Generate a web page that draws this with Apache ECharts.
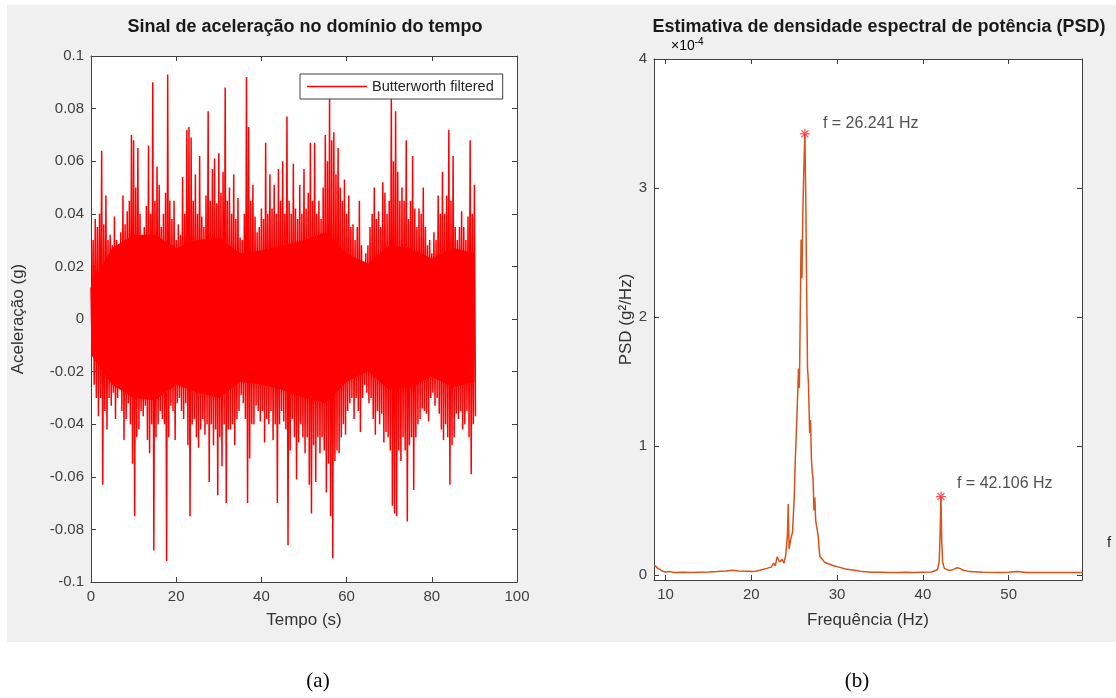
<!DOCTYPE html>
<html>
<head>
<meta charset="utf-8">
<script src="https://cdn.jsdelivr.net/npm/echarts@6/dist/echarts.min.js"></script>
<style>
  html, body { margin: 0; padding: 0; background: #ffffff; }
  #chart { width: 1116px; height: 698px; }
</style>
</head>
<body>
<div id="chart"></div>
<script>
// ---------------- DATA ----------------
// (a) acceleration signal, read as the local upper / lower peak envelope every 0.5 s (0 .. 90 s)
const timeStep = 0.5; // s
const accelUpper = [
  0.012,0.030,0.038,0.035,0.040,0.064,0.036,0.047,0.030,0.032,
  0.028,0.039,0.030,0.027,0.033,0.047,0.036,0.041,0.045,0.070,
  0.068,0.050,0.065,0.040,0.029,0.035,0.043,0.066,0.040,0.090,
  0.045,0.058,0.051,0.035,0.040,0.048,0.093,0.045,0.038,0.045,
  0.030,0.036,0.032,0.054,0.040,0.072,0.073,0.069,0.045,0.055,
  0.040,0.062,0.039,0.035,0.047,0.079,0.045,0.057,0.061,0.044,
  0.063,0.048,0.056,0.088,0.045,0.050,0.040,0.055,0.038,0.046,
  0.031,0.030,0.040,0.092,0.073,0.045,0.051,0.039,0.033,0.035,
  0.042,0.038,0.067,0.040,0.055,0.042,0.051,0.040,0.057,0.045,
  0.060,0.040,0.077,0.045,0.040,0.059,0.042,0.038,0.051,0.040,
  0.057,0.042,0.048,0.067,0.045,0.067,0.040,0.045,0.038,0.050,
  0.070,0.060,0.085,0.068,0.071,0.055,0.065,0.050,0.045,0.053,
  0.040,0.047,0.035,0.036,0.030,0.035,0.045,0.028,0.022,0.025,
  0.028,0.035,0.040,0.050,0.038,0.041,0.035,0.052,0.048,0.040,
  0.045,0.085,0.060,0.079,0.056,0.045,0.050,0.045,0.068,0.038,
  0.045,0.062,0.042,0.035,0.042,0.040,0.050,0.035,0.028,0.030,
  0.025,0.033,0.030,0.047,0.040,0.056,0.040,0.047,0.072,0.045,
  0.062,0.035,0.030,0.035,0.041,0.035,0.030,0.039,0.068,0.040,
  0.051
];
const accelLower = [
  -0.012,-0.025,-0.030,-0.037,-0.030,-0.063,-0.035,-0.042,-0.030,-0.033,
  -0.028,-0.038,-0.030,-0.025,-0.035,-0.046,-0.038,-0.032,-0.040,-0.055,
  -0.075,-0.045,-0.042,-0.035,-0.037,-0.033,-0.046,-0.051,-0.040,-0.088,
  -0.045,-0.040,-0.035,-0.038,-0.040,-0.092,-0.045,-0.033,-0.035,-0.046,
  -0.032,-0.030,-0.035,-0.038,-0.032,-0.048,-0.075,-0.040,-0.038,-0.045,
  -0.049,-0.042,-0.038,-0.044,-0.040,-0.062,-0.040,-0.048,-0.042,-0.067,
  -0.045,-0.056,-0.040,-0.070,-0.042,-0.042,-0.040,-0.048,-0.038,-0.035,
  -0.029,-0.032,-0.038,-0.070,-0.053,-0.040,-0.040,-0.033,-0.035,-0.039,
  -0.035,-0.047,-0.038,-0.040,-0.035,-0.046,-0.040,-0.070,-0.040,-0.035,
  -0.039,-0.042,-0.086,-0.050,-0.038,-0.045,-0.061,-0.047,-0.040,-0.045,
  -0.051,-0.045,-0.063,-0.074,-0.048,-0.062,-0.045,-0.051,-0.045,-0.050,
  -0.066,-0.055,-0.075,-0.091,-0.054,-0.050,-0.051,-0.045,-0.040,-0.044,
  -0.035,-0.032,-0.030,-0.038,-0.030,-0.035,-0.043,-0.030,-0.025,-0.028,
  -0.032,-0.030,-0.038,-0.044,-0.035,-0.040,-0.036,-0.047,-0.043,-0.045,
  -0.050,-0.071,-0.074,-0.075,-0.050,-0.054,-0.045,-0.050,-0.077,-0.048,
  -0.045,-0.065,-0.045,-0.040,-0.038,-0.034,-0.035,-0.036,-0.039,-0.030,
  -0.028,-0.033,-0.030,-0.036,-0.042,-0.046,-0.040,-0.045,-0.063,-0.048,
  -0.045,-0.036,-0.038,-0.035,-0.042,-0.040,-0.035,-0.045,-0.059,-0.040,
  -0.037
];
// dense (solid) core of the signal, read every 5 s (0 .. 90 s)
const coreStep = 5; // s
const coreUpper = [0.014, 0.027, 0.032, 0.032, 0.027, 0.030, 0.031, 0.025, 0.026, 0.028, 0.030, 0.033, 0.025, 0.021, 0.028, 0.027, 0.023, 0.027, 0.025];
const coreLower = [-0.014, -0.025, -0.030, -0.031, -0.025, -0.028, -0.030, -0.024, -0.025, -0.027, -0.030, -0.032, -0.024, -0.020, -0.027, -0.026, -0.022, -0.026, -0.024];

// (b) PSD estimate, frequency (Hz) and PSD (x 1e-4 g^2/Hz)
const psdFreq = [
  8.7, 8.9, 9.1, 9.3, 9.6, 10.0, 10.5, 11, 12, 13, 14, 15, 16, 17, 17.8, 18.5, 19.5, 20.2, 21, 21.8,
  22.3, 22.6, 22.8, 23.0, 23.3, 23.6, 23.8, 24.0, 24.2, 24.3, 24.4, 24.6, 24.8, 25.0, 25.1, 25.3,
  25.4, 25.5, 25.6, 25.7, 25.8, 25.9, 26.0, 26.1, 26.241, 26.35, 26.45, 26.55, 26.65, 26.8, 26.9,
  27.0, 27.1, 27.2, 27.3, 27.4, 27.5, 27.6, 27.8, 27.9, 28.0, 28.3, 28.5, 28.8, 29.2, 29.6, 30.2,
  31, 32, 33, 34, 35, 36, 37, 38, 39, 40, 41, 41.7, 41.9, 42.0, 42.106, 42.2, 42.3, 42.5, 43, 43.5,
  44.0, 44.3, 44.7, 45.5, 47, 49, 50, 51, 52, 54, 56, 58.6
];
const psdValue = [
  0.075, 0.060, 0.050, 0.035, 0.030, 0.022, 0.025, 0.018, 0.020, 0.018, 0.020, 0.022, 0.025, 0.030, 0.035, 0.030, 0.028, 0.025, 0.035, 0.050,
  0.060, 0.090, 0.070, 0.140, 0.100, 0.120, 0.090, 0.150, 0.300, 0.550, 0.200, 0.280, 0.330, 0.600, 0.850, 1.200,
  1.400, 1.600, 1.450, 2.000, 2.600, 2.300, 2.800, 3.100, 3.420, 2.900, 2.200, 1.600, 1.500, 1.100, 1.200,
  0.900, 0.800, 0.740, 0.500, 0.600, 0.420, 0.380, 0.300, 0.200, 0.140, 0.120, 0.100, 0.090, 0.080, 0.070, 0.060,
  0.045, 0.035, 0.025, 0.020, 0.020, 0.018, 0.018, 0.020, 0.018, 0.020, 0.022, 0.040, 0.100, 0.300, 0.607, 0.250, 0.100, 0.050, 0.035, 0.040,
  0.055, 0.050, 0.035, 0.025, 0.020, 0.018, 0.020, 0.025, 0.018, 0.018, 0.018, 0.018
];
const peakFreq = [26.241, 42.106];
const peakPsd = [3.42, 0.607];
const psdTicksX = [10, 20, 30, 40, 50];
const psdTicksY = [0, 1, 2, 3, 4];

// ---------------- CHART ----------------
const FONT = 'Liberation Sans, Arial, sans-serif';
const AX = '#404040';
const TXT = '#404040';

// zig-zag trace between the read upper and lower peaks
const accelData = [];
for (let i = 0; i < accelUpper.length; i++) {
  accelData.push([i * timeStep, accelUpper[i]]);
  accelData.push([i * timeStep + timeStep / 2, accelLower[i]]);
}
const coreTime = i => Math.min(Math.max(i * coreStep, 0.2), 90.3);
const coreUpData = coreUpper.map((v, i) => [coreTime(i), v]);
const coreLoData = coreLower.map((v, i) => [coreTime(i), v]);
const psdData = psdFreq.map((f, i) => [f, psdValue[i]]);
const peakData = peakFreq.map((f, i) => ({
  value: [f, peakPsd[i]],
  label: { offset: i === 0 ? [8, -10] : [6, -13] }
}));

const chart = echarts.init(document.getElementById('chart'), null, { renderer: 'canvas' });

const tickInside = { show: true, inside: true, length: 5, lineStyle: { color: AX, width: 1 } };
const lineStyleAx = { show: true, onZero: false, lineStyle: { color: AX, width: 1 } };
const labelStyle = { color: TXT, fontFamily: FONT, fontSize: 15 };
const nameStyle = { color: '#333333', fontFamily: FONT, fontSize: 17 };

const asterisk = 'path://M-0.6,-5L0.6,-5L0.6,5L-0.6,5Z M-5,-0.6L5,-0.6L5,0.6L-5,0.6Z M-3.1,-3.95L3.95,3.1L3.1,3.95L-3.95,-3.1Z M3.1,-3.95L3.95,-3.1L-3.1,3.95L-3.95,3.1Z';

const coreSeries = (name, data) => ({
  name, type: 'line', xAxisIndex: 0, yAxisIndex: 0, data,
  symbol: 'none', showSymbol: false, smooth: false,
  lineStyle: { width: 0, opacity: 0 },
  areaStyle: { color: '#ff0000', opacity: 1, origin: 0 }, z: 2, silent: true
});

chart.setOption({
  animation: false,
  backgroundColor: '#ffffff',
  graphic: [
    { type: 'rect', z: -10, shape: { x: 7, y: 5, width: 1109, height: 637 }, style: { fill: '#f0f0f0' } },
    { type: 'text', x: 305, y: 18, style: { text: 'Sinal de aceleração no domínio do tempo', font: 'bold 18px ' + FONT, fill: '#1a1a1a', textAlign: 'center' } },
    { type: 'text', x: 879, y: 18, style: { text: 'Estimativa de densidade espectral de potência (PSD)', font: 'bold 18px ' + FONT, fill: '#1a1a1a', textAlign: 'center' } },
    { type: 'text', x: 671, y: 37, style: { text: '{a|×10}{b|-4}', rich: { a: { fontSize: 14, fontFamily: FONT, color: '#707070' }, b: { fontSize: 10, fontFamily: FONT, color: '#707070', padding: [0, 0, 9, 0] } } } },
    { type: 'text', x: 1107, y: 535, style: { text: 'f', font: '15px ' + FONT, fill: '#262626' } },
    { type: 'text', x: 318, y: 671, style: { text: '(a)', font: '21px Liberation Serif, Times New Roman, serif', fill: '#000', textAlign: 'center' } },
    { type: 'text', x: 857, y: 671, style: { text: '(b)', font: '21px Liberation Serif, Times New Roman, serif', fill: '#000', textAlign: 'center' } }
  ],
  legend: {
    data: [{ name: 'Butterworth filtered', icon: 'rect' }],
    left: 300, top: 74,
    orient: 'horizontal',
    selectedMode: false,
    backgroundColor: '#ffffff',
    borderColor: '#404040', borderWidth: 1,
    padding: [5, 9, 5, 7],
    itemWidth: 60, itemHeight: 1.5,
    textStyle: { color: '#262626', fontFamily: FONT, fontSize: 14.5 }
  },
  grid: [
    { left: 91, top: 56, width: 426, height: 526, show: true, backgroundColor: '#ffffff', borderWidth: 0 },
    { left: 654, top: 59, width: 428, height: 521, show: true, backgroundColor: '#ffffff', borderWidth: 0 }
  ],
  xAxis: [
    { type: 'value', gridIndex: 0, position: 'bottom', min: 0, max: 100, interval: 20,
      axisLine: lineStyleAx, axisTick: tickInside, splitLine: { show: false },
      axisLabel: Object.assign({ margin: 7 }, labelStyle),
      name: 'Tempo (s)', nameLocation: 'middle', nameGap: 30, nameTextStyle: nameStyle },
    { type: 'value', gridIndex: 0, position: 'top', min: 0, max: 100, interval: 20,
      axisLine: lineStyleAx, axisTick: tickInside, axisLabel: { show: false }, splitLine: { show: false } },
    { type: 'value', gridIndex: 1, position: 'bottom', min: 8.65, max: 58.55,
      axisLine: lineStyleAx, axisTick: Object.assign({ customValues: psdTicksX }, tickInside), splitLine: { show: false },
      axisLabel: Object.assign({ margin: 7, customValues: psdTicksX }, labelStyle),
      name: 'Frequência (Hz)', nameLocation: 'middle', nameGap: 32, nameTextStyle: nameStyle },
    { type: 'value', gridIndex: 1, position: 'top', min: 8.65, max: 58.55,
      axisLine: lineStyleAx, axisTick: Object.assign({ customValues: psdTicksX }, tickInside),
      axisLabel: { show: false }, splitLine: { show: false } }
  ],
  yAxis: [
    { type: 'value', gridIndex: 0, position: 'left', min: -0.1, max: 0.1, interval: 0.02,
      axisLine: lineStyleAx, axisTick: tickInside, splitLine: { show: false },
      axisLabel: Object.assign({ margin: 7, formatter: v => String(+v.toFixed(2)) }, labelStyle),
      name: 'Aceleração (g)', nameLocation: 'middle', nameGap: 64, nameTextStyle: nameStyle },
    { type: 'value', gridIndex: 0, position: 'right', min: -0.1, max: 0.1, interval: 0.02,
      axisLine: lineStyleAx, axisTick: tickInside, axisLabel: { show: false }, splitLine: { show: false } },
    { type: 'value', gridIndex: 1, position: 'left', min: -0.04, max: 4,
      axisLine: lineStyleAx, axisTick: Object.assign({ customValues: psdTicksY }, tickInside), splitLine: { show: false },
      axisLabel: Object.assign({ margin: 7, customValues: psdTicksY }, labelStyle),
      name: 'PSD (g²/Hz)', nameLocation: 'middle', nameGap: 18, nameTextStyle: nameStyle },
    { type: 'value', gridIndex: 1, position: 'right', min: -0.04, max: 4,
      axisLine: lineStyleAx, axisTick: Object.assign({ customValues: psdTicksY }, tickInside),
      axisLabel: { show: false }, splitLine: { show: false } }
  ],
  series: [
    coreSeries('core-upper', coreUpData),
    coreSeries('core-lower', coreLoData),
    { name: 'Butterworth filtered', type: 'line', xAxisIndex: 0, yAxisIndex: 0,
      data: accelData, symbol: 'none', showSymbol: false, sampling: null,
      lineStyle: { color: '#ff0000', width: 1.5 }, itemStyle: { color: '#ff0000' }, z: 3 },
    { name: 'PSD', type: 'line', xAxisIndex: 2, yAxisIndex: 2,
      data: psdData, symbol: 'none', showSymbol: false,
      lineStyle: { color: '#d95319', width: 1.5 }, itemStyle: { color: '#d95319' }, z: 3 },
    { name: 'peaks', type: 'scatter', xAxisIndex: 2, yAxisIndex: 2,
      data: peakData, symbol: asterisk, symbolSize: 10,
      itemStyle: { color: '#ff2a2a' }, z: 5,
      label: { show: true, position: 'right', color: '#262626', fontFamily: FONT, fontSize: 16,
        formatter: p => 'f = ' + p.value[0].toFixed(3) + ' Hz' } }
  ]
});
</script>
</body>
</html>
